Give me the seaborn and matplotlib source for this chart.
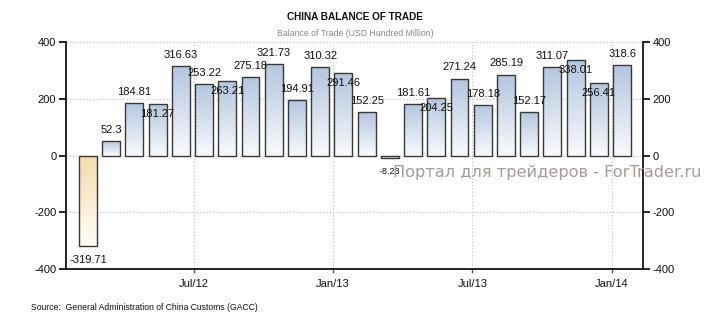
import numpy as np
import pandas as pd
import matplotlib
matplotlib.use("Agg")
import matplotlib.pyplot as plt
from matplotlib.colors import LinearSegmentedColormap
import seaborn as sns

# Monthly trade balance, USD hundred million (Feb 2012 - Jan 2014)
months = ["Feb/12", "Mar/12", "Apr/12", "May/12", "Jun/12", "Jul/12",
          "Aug/12", "Sep/12", "Oct/12", "Nov/12", "Dec/12", "Jan/13",
          "Feb/13", "Mar/13", "Apr/13", "May/13", "Jun/13", "Jul/13",
          "Aug/13", "Sep/13", "Oct/13", "Nov/13", "Dec/13", "Jan/14"]
balance = [-319.71, 52.3, 184.81, 181.27, 316.63, 253.22,
           263.21, 275.18, 321.73, 194.91, 310.32, 291.46,
           152.25, -8.23, 181.61, 204.25, 271.24, 178.18,
           285.19, 152.17, 311.07, 338.01, 256.41, 318.6]
tick_months = ["Jul/12", "Jan/13", "Jul/13", "Jan/14"]
y_ticks = [-400, -200, 0, 200, 400]

# labels that sit just inside the top of their bar instead of above it
inside_labels = {"May/12", "Aug/12", "Jan/13", "May/13", "Nov/13", "Dec/13"}

df = pd.DataFrame({"month": months, "balance": balance})

sns.set_theme(style="white")
plt.rcParams["font.family"] = ["Liberation Sans", "DejaVu Sans"]

W, H = 710, 325
fig = plt.figure(figsize=(W / 100, H / 100), dpi=100)
ax = fig.add_axes([66 / W, 1 - 269 / H, (643 - 66) / W, (269 - 42) / H])

bar_w = 0.77
sns.barplot(data=df, x="month", y="balance", order=months, width=bar_w,
            color="white", edgecolor="#383838", linewidth=1.0, ax=ax,
            zorder=3)

pos_cmap = LinearSegmentedColormap.from_list("pos", ["#f8f9fc", "#b3c5de"])
neg_cmap = LinearSegmentedColormap.from_list("neg", ["#fffdf8", "#f4dbad"])
grad = np.linspace(0, 1, 128).reshape(-1, 1)

# vertical gradient fill inside every bar, darkest at the zero-far end
# for positive bars and at the zero line for negative ones
for patch, val in zip(ax.patches, balance):
    x0, y0 = patch.get_x(), patch.get_y()
    w, h = patch.get_width(), patch.get_height()
    lo, hi = min(y0, y0 + h), max(y0, y0 + h)
    patch.set_facecolor("none")
    cmap = pos_cmap if val >= 0 else neg_cmap
    img = ax.imshow(grad, cmap=cmap, origin="lower", aspect="auto",
                    extent=[x0, x0 + w, lo, hi], zorder=2)
    img.set_clip_path(patch)

# value labels
for i, (m, val) in enumerate(zip(months, balance)):
    txt = f"{val:g}"
    if val < 0:
        fs = 6.5 if abs(val) < 50 else 8
        ax.annotate(txt, (i, val), xytext=(0, -10), textcoords="offset points",
                    ha="center", va="center", fontsize=fs, color="#111111",
                    zorder=5)
    elif m in inside_labels:
        ax.annotate(txt, (i, val), xytext=(0, -7.5), textcoords="offset points",
                    ha="center", va="center", fontsize=8, color="#111111",
                    zorder=5)
    else:
        ax.annotate(txt, (i, val), xytext=(0, 8), textcoords="offset points",
                    ha="center", va="center", fontsize=8, color="#111111",
                    zorder=5)

ax.set_ylim(-400, 400)
ax.set_xlim(-0.945, 23.9)
ax.set_yticks(y_ticks)
ax.set_yticklabels([str(t) for t in y_ticks])
tick_pos = [months.index(t) - 0.45 for t in tick_months]
ax.set_xticks(tick_pos)
ax.set_xticklabels(tick_months)
ax.set_xlabel("")
ax.set_ylabel("")

ax.grid(True, axis="both", linestyle=(0, (1, 2)), color="#bdbdbd",
        linewidth=0.8, zorder=0)
ax.set_axisbelow(True)

for side in ["left", "right", "bottom"]:
    ax.spines[side].set_visible(True)
    ax.spines[side].set_color("black")
    ax.spines[side].set_linewidth(1.2)
ax.spines["top"].set_visible(False)

ax.tick_params(axis="y", which="both", left=True, right=True, labelleft=True,
               labelright=True, length=5, width=1.2, color="black",
               labelsize=8, pad=2, labelcolor="#111111")
ax.tick_params(axis="x", bottom=True, length=3, width=1, color="#555555",
               labelsize=8, pad=4, labelcolor="#111111")

fig.text(355 / W, 1 - 17 / H, "CHINA BALANCE OF TRADE", ha="center",
         va="center", fontsize=7.2, fontweight="bold", color="#111111")
fig.text(355 / W, 1 - 33 / H, "Balance of Trade (USD Hundred Million)",
         ha="center", va="center", fontsize=6.3, color="#8a8a8a")
fig.text(31 / W, 1 - 308 / H,
         "Source:  General Administration of China Customs (GACC)",
         ha="left", va="center", fontsize=6.2, color="#111111")
fig.text(393 / W, 1 - 173 / H, "Портал для трейдеров - ForTrader.ru",
         ha="left", va="center", fontsize=11.6, color="#a49c9a",
         family=["DejaVu Sans"], zorder=10)

fig.savefig("out.png", dpi=100)
